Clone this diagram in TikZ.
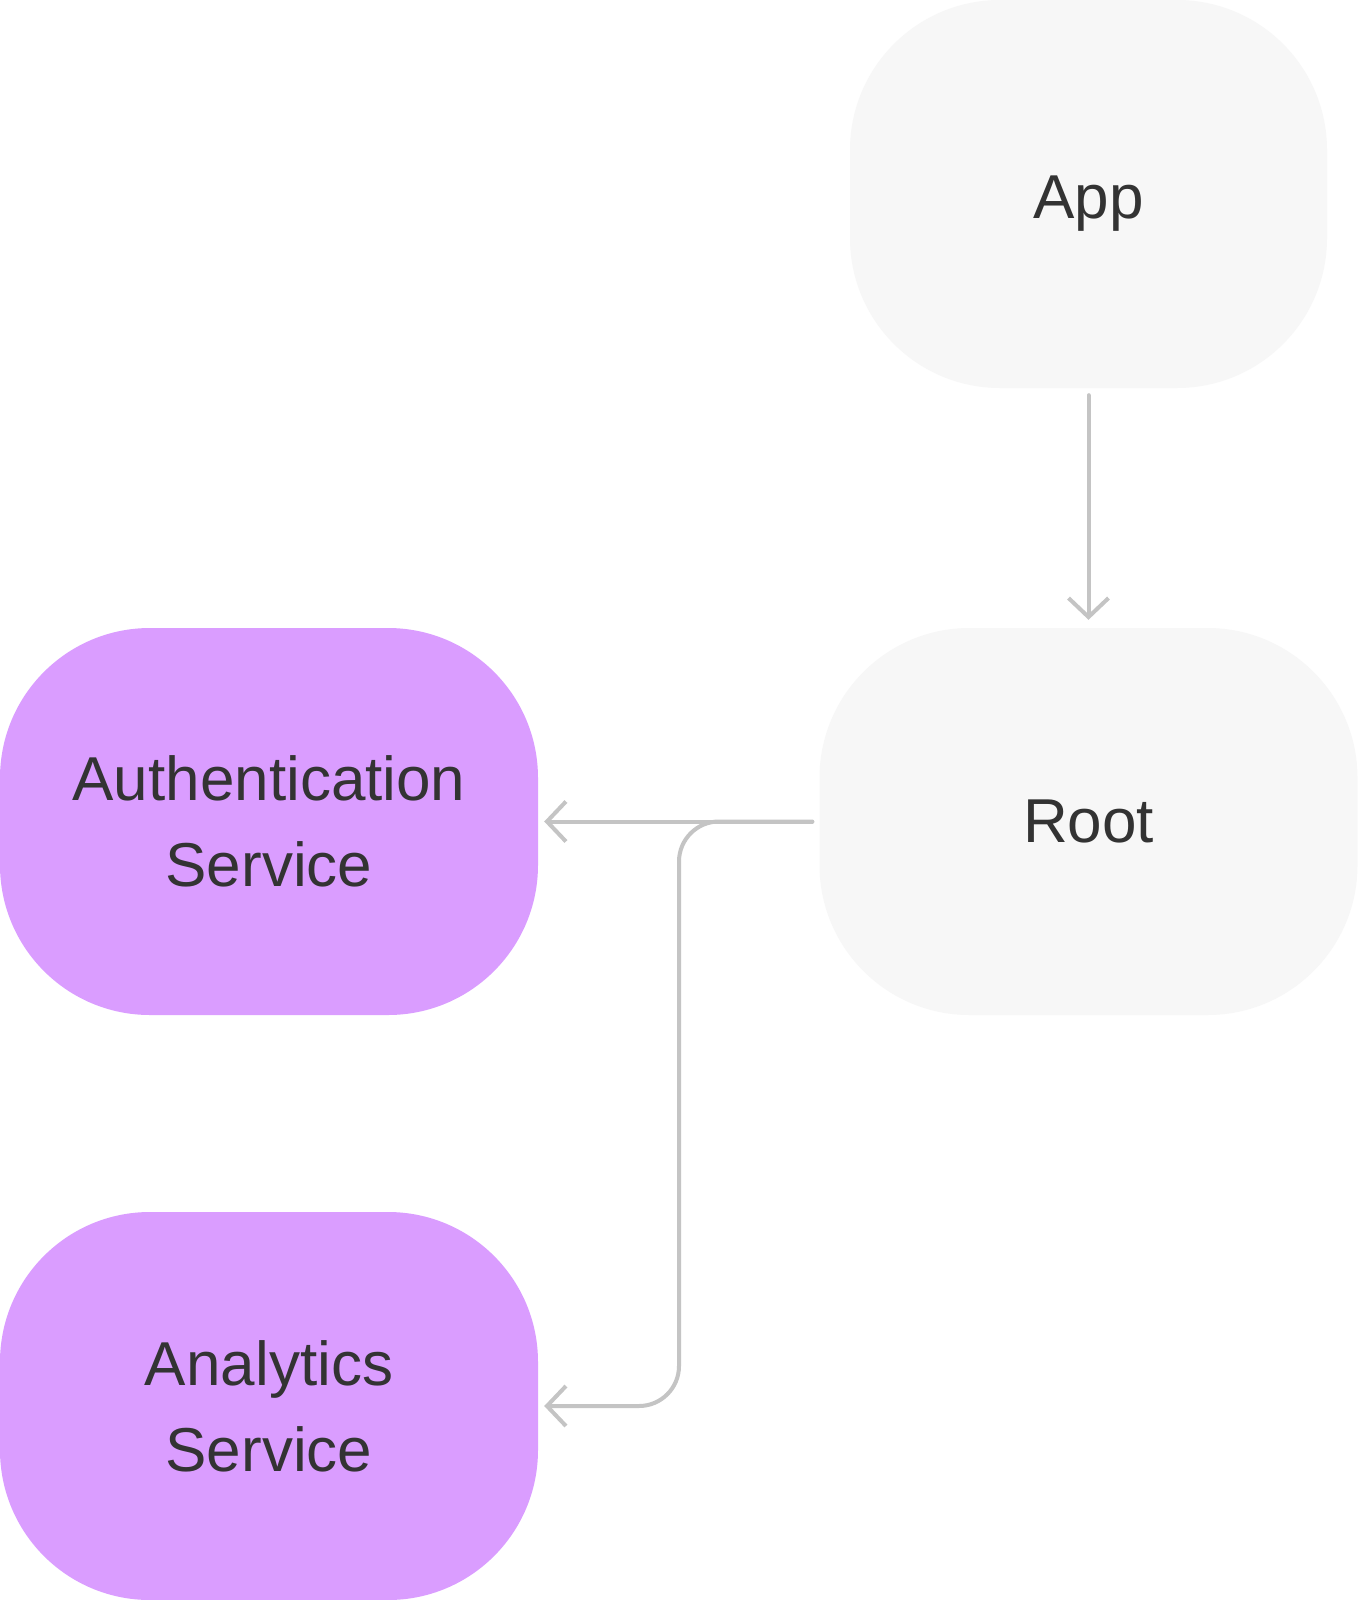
\documentclass[tikz,border=0pt]{standalone}
\usepackage{fontspec}
\setmainfont{Liberation Sans}
\usetikzlibrary{arrows.meta}
\definecolor{purplebox}{HTML}{DA9DFF}
\definecolor{graybox}{HTML}{F7F7F7}
\definecolor{conncol}{HTML}{C4C4C4}
\definecolor{txtcol}{HTML}{333333}
\tikzset{
  box/.style={rectangle, rounded corners=150pt, minimum width=538pt, minimum height=387pt,
    inner sep=0pt, align=center, text=txtcol, font=\fontsize{62}{86}\selectfont},
  svcbox/.style={box, fill=purplebox},
  corebox/.style={box, fill=graybox},
  conn/.style={draw=conncol, line width=4pt, line cap=round, line join=round,
    -{Straight Barb[length=19pt,width=40pt,line width=4pt]}},
}
\begin{document}
\begin{tikzpicture}[x=1pt,y=-1pt]
\useasboundingbox[fill=white] (0,0) rectangle (1357,1600);
\node[corebox, minimum width=477pt, minimum height=388pt, text depth=0pt] (app) at (1088.5,194) {\raisebox{-7pt}{App}};
\node[corebox] (root) at (1088.5,821.5) {\raisebox{-3pt}{Root}};
\node[svcbox] (auth) at (269,821.5) {Authentication\\Service};
\node[svcbox, minimum height=388pt] (analytics) at (269,1406) {Analytics\\Service};
\coordinate (bend) at (679,1406);
\draw[conn, shorten <=7pt, shorten >=8pt] (app.south) -- (app.south |- root.north);
\draw[conn, shorten <=7pt, shorten >=6pt] (root.west) -- (auth.east);
\draw[conn, rounded corners=40pt, shorten <=7pt, shorten >=6pt] (root.west) -| (bend) -- (analytics.east);
\end{tikzpicture}
\end{document}
